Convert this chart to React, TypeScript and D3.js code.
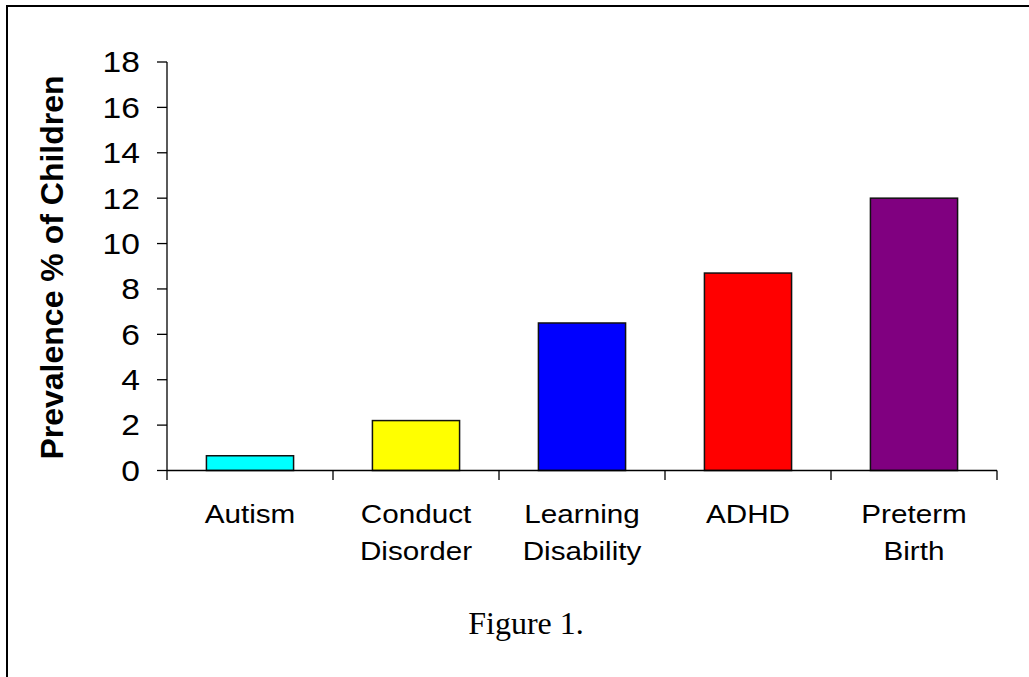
import React from "react";
import * as d3 from "d3";

const categories = ["Autism", "Conduct Disorder", "Learning Disability", "ADHD", "Preterm Birth"];
const labelLines = [["Autism"], ["Conduct", "Disorder"], ["Learning", "Disability"], ["ADHD"], ["Preterm", "Birth"]];
const values = [0.65, 2.2, 6.5, 8.7, 12.0];
const colors = ["#00FFFF", "#FFFF00", "#0000FF", "#FF0000", "#800080"];
const yTicks = [0, 2, 4, 6, 8, 10, 12, 14, 16, 18];

export default function App() {
  const W = 1029, H = 677;
  const y = d3.scaleLinear().domain([0, 18]).range([470.5, 62]);
  const x = d3.scaleBand<string>().domain(categories).range([167, 997]).paddingInner(0.475).paddingOuter(0.2375);
  const step = x.step();
  const x0 = 167;
  const sx = 1.12;
  return (
    <svg width={W} height={H} style={{ position: "absolute", left: 0, top: 0, background: "#fff" }}>
      <rect x={0} y={0} width={W} height={H} fill="#fff" />
      <line x1={6} y1={6} x2={W} y2={6} stroke="#000" strokeWidth={2} />
      <line x1={7} y1={6} x2={7} y2={H} stroke="#000" strokeWidth={2} />
      {categories.map((c, i) => (
        <rect key={c} x={x(c)} y={y(values[i])} width={x.bandwidth()} height={y(0) - y(values[i])}
          fill={colors[i]} stroke="#111" strokeWidth={1.5} />
      ))}
      <line x1={167} y1={y(18)} x2={167} y2={y(0)} stroke="#000" strokeWidth={1.3} />
      <line x1={167} y1={y(0)} x2={997} y2={y(0)} stroke="#000" strokeWidth={1.3} />
      {yTicks.map((t) => (
        <g key={t}>
          <line x1={157} x2={167} y1={y(t)} y2={y(t)} stroke="#000" strokeWidth={1.3} />
          <text x={140} y={y(t)} textAnchor="end" dominantBaseline="central"
            fontFamily="Liberation Sans, Arial, sans-serif" fontSize={30}
            transform={`translate(140,0) scale(${sx},1) translate(-140,0)`}>{t}</text>
        </g>
      ))}
      {d3.range(6).map((i) => (
        <line key={i} x1={x0 + i * step} x2={x0 + i * step} y1={y(0)} y2={480} stroke="#000" strokeWidth={1.3} />
      ))}
      {categories.map((c, i) => {
        const cx = (x(c) as number) + x.bandwidth() / 2;
        return (
          <text key={c} fontFamily="Liberation Sans, Arial, sans-serif" fontSize={26.5} textAnchor="middle"
            transform={`translate(${cx},0) scale(${sx},1) translate(${-cx},0)`}>
            {labelLines[i].map((l, j) => (
              <tspan key={j} x={cx} y={523 + j * 37}>{l}</tspan>
            ))}
          </text>
        );
      })}
      <text transform="translate(52,267.5) rotate(-90)" textAnchor="middle" dominantBaseline="central"
        fontFamily="Liberation Sans, Arial, sans-serif" fontWeight="bold" fontSize={32}>
        Prevalence % of Children
      </text>
      <text x={526} y={634} textAnchor="middle" fontFamily="Liberation Serif, Times New Roman, serif" fontSize={32}>
        Figure 1.
      </text>
    </svg>
  );
}
